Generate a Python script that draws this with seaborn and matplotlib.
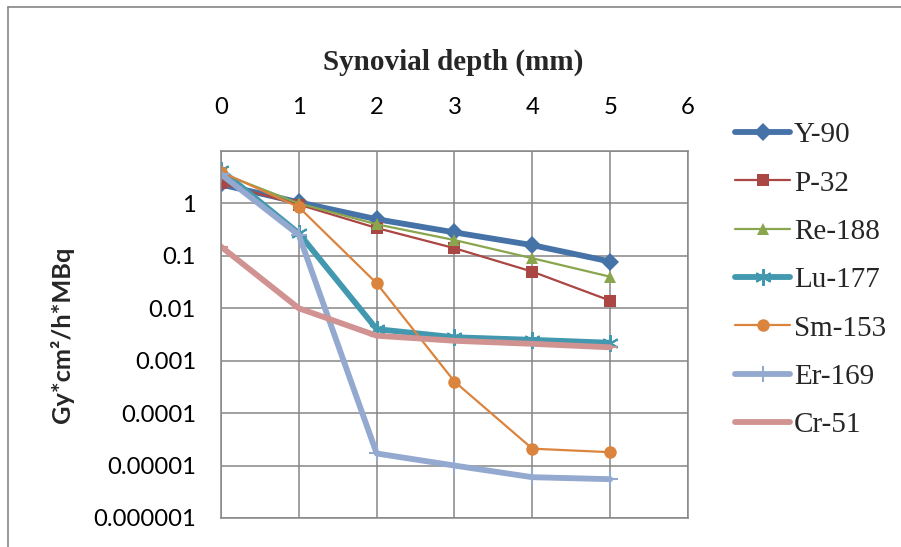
import matplotlib
matplotlib.use("Agg")
import matplotlib.pyplot as plt
import matplotlib.ticker as mticker
from matplotlib.lines import Line2D
import pandas as pd
import seaborn as sns

# ---------------------------
# data
# ---------------------------
depth_mm = [0, 1, 2, 3, 4, 5]

y90 = [2.3, 1.05, 0.5, 0.28, 0.16, 0.078]
p32 = [2.4, 0.95, 0.34, 0.14, 0.05, 0.014]
re188 = [3.8, 1.0, 0.4, 0.2, 0.09, 0.04]
lu177 = [4.3, 0.27, 0.004, 0.0028, 0.0025, 0.0022]
sm153 = [4.0, 0.85, 0.03, 0.0004, 0.000021, 0.000018]
er169 = [3.6, 0.25, 0.000017, 0.00001, 0.000006, 0.0000055]
cr51 = [0.15, 0.01, 0.003, 0.0024, 0.0021, 0.0018]

series_names = ["Y-90", "P-32", "Re-188", "Lu-177", "Sm-153", "Er-169", "Cr-51"]
series_values = [y90, p32, re188, lu177, sm153, er169, cr51]

y_ticks = [1e-6, 1e-5, 1e-4, 1e-3, 1e-2, 1e-1, 1]
y_tick_labels = ["0.000001", "0.00001", "0.0001", "0.001", "0.01", "0.1", "1"]
x_ticks = [0, 1, 2, 3, 4, 5, 6]

# look of each series (Excel 2007 palette)
styles = {
    "Y-90":   dict(color="#4572A7", lw=4.2, marker="D", ms=9),
    "P-32":   dict(color="#AA4643", lw=1.6, marker="s", ms=8),
    "Re-188": dict(color="#89A54E", lw=1.6, marker="^", ms=9),
    "Lu-177": dict(color="#4198AF", lw=4.2, marker=(6, 2, 0), ms=12, mew=1.5),
    "Sm-153": dict(color="#DB843D", lw=1.6, marker="o", ms=9),
    "Er-169": dict(color="#93A9CF", lw=4.2, marker="+", ms=12, mew=1.5),
    "Cr-51":  dict(color="#D19392", lw=4.2, marker="_", ms=10, mew=1.5),
}

grid_color = "#868686"

sns.set_style("white")
plt.rcParams["font.family"] = ["Lato", "DejaVu Sans"]

fig = plt.figure(figsize=(9.01, 5.47), dpi=100)
ax = fig.add_axes([221 / 901, 1 - 518 / 547, (688 - 221) / 901, (518 - 151) / 547])

# draw each series
for name, vals in zip(series_names, series_values):
    df = pd.DataFrame({"depth": depth_mm, "dose": vals})
    st = styles[name]
    sns.lineplot(
        data=df, x="depth", y="dose", ax=ax, label=name,
        color=st["color"], linewidth=st["lw"], marker=st["marker"],
        markersize=st["ms"], markeredgewidth=st.get("mew", 0),
        markeredgecolor=st["color"], solid_joinstyle="round",
        solid_capstyle="round",
    )

# axes
ax.set_yscale("log")
ax.set_ylim(1e-6, 10)
ax.set_xlim(0, 6)
ax.set_yticks(y_ticks)
ax.yaxis.set_major_formatter(mticker.FixedFormatter(y_tick_labels))
ax.yaxis.set_minor_locator(mticker.NullLocator())
ax.set_xticks(x_ticks)
ax.xaxis.tick_top()
ax.tick_params(axis="both", length=0, labelsize=17.2, colors="black")
ax.tick_params(axis="y", pad=18)
ax.tick_params(axis="x", pad=24)
ax.set_xlabel("")
ax.set_ylabel("")

ax.grid(True, color=grid_color, linewidth=1.1)
ax.axhline(10, color=grid_color, linewidth=1.1)
ax.set_axisbelow(True)
for sp in ax.spines.values():
    sp.set_color(grid_color)
    sp.set_linewidth(1.1)

# titles
fig.text(453 / 901, 1 - 62 / 547, "Synovial depth (mm)", ha="center", va="center",
         fontsize=21, fontweight="bold", family="Liberation Serif")
fig.text(62 / 901, 1 - 335 / 547, "Gy*cm\u00b2/h*MBq", ha="center", va="center",
         rotation=90, fontsize=18.3, fontweight="bold")

# legend
handles, labels = ax.get_legend_handles_labels()
ax.legend(handles, labels, loc="upper left", bbox_to_anchor=(735 / 901, 1 - 122 / 547),
          bbox_transform=fig.transFigure, frameon=False, borderpad=0, borderaxespad=0,
          handlelength=1.9, handletextpad=0.12, labelspacing=0.75,
          prop={"family": "Liberation Serif", "size": 21}, numpoints=1)

# outer chart border (left and top edges visible)
fig.add_artist(Line2D([8 / 901, 8 / 901], [0, 1 - 7 / 547], transform=fig.transFigure,
                      color=grid_color, linewidth=1.2))
fig.add_artist(Line2D([8 / 901, 1], [1 - 7 / 547, 1 - 7 / 547], transform=fig.transFigure,
                      color=grid_color, linewidth=1.2))

fig.savefig("out.png", dpi=100)
